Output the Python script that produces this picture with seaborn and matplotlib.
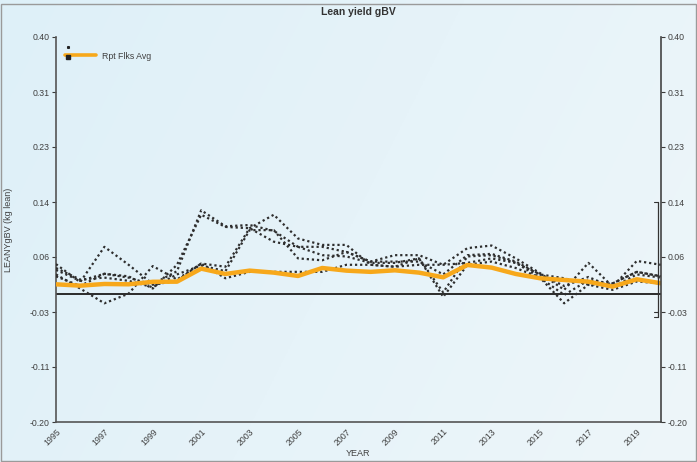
import numpy as np
import pandas as pd
import matplotlib
matplotlib.use("Agg")
import matplotlib.pyplot as plt
from matplotlib.lines import Line2D
from matplotlib.patches import Rectangle
import seaborn as sns

# ---- data -------------------------------------------------------------
years = list(range(1995, 2021))

flock_1 = [0.046, 0.018, 0.073, 0.045, 0.015, 0.035, 0.130, 0.105, 0.107, 0.098, 0.073, 0.073, 0.065,
           0.050, 0.060, 0.060, 0.045, 0.071, 0.075, 0.055, 0.032, 0.006, 0.048, 0.011, 0.051, 0.045]
flock_2 = [0.037, 0.020, 0.031, 0.027, 0.008, 0.045, 0.123, 0.104, 0.102, 0.081, 0.073, 0.060, 0.058,
           0.048, 0.048, 0.055, 0.002, 0.058, 0.060, 0.048, 0.025, -0.002, 0.021, 0.016, 0.034, 0.027]
flock_3 = [0.030, 0.008, -0.015, 0.000, 0.043, 0.022, 0.047, 0.042, 0.102, 0.123, 0.086, 0.076, 0.076,
           0.045, 0.042, 0.045, 0.045, 0.048, 0.055, 0.048, 0.030, 0.024, 0.014, 0.006, 0.019, 0.016]
flock_4 = [0.027, 0.012, 0.031, 0.025, 0.014, 0.020, 0.047, 0.024, 0.034, 0.034, 0.034, 0.034, 0.045,
           0.045, 0.042, 0.055, -0.005, 0.045, 0.050, 0.040, 0.025, -0.015, 0.014, 0.016, 0.034, 0.027]
flock_5 = [0.040, 0.022, 0.025, 0.020, 0.010, 0.030, 0.044, 0.035, 0.099, 0.099, 0.055, 0.052, 0.065,
           0.050, 0.050, 0.050, 0.030, 0.060, 0.062, 0.050, 0.030, 0.012, 0.026, 0.010, 0.030, 0.025]

rpt_flks_avg = [0.0146, 0.0125, 0.0151, 0.0146, 0.0185, 0.0187, 0.0390, 0.0307, 0.0359, 0.0328, 0.0276,
                0.0400, 0.0359, 0.0340, 0.0364, 0.0328, 0.0255, 0.0447, 0.0406, 0.0307, 0.0240, 0.0213,
                0.0187, 0.0110, 0.0224, 0.0162]

y_tick_labels = ["-0.20", "-0.11", "-0.03", "0.06", "0.14", "0.23", "0.31", "0.40"]
x_tick_years = list(range(1995, 2020, 2))

flocks = {"F1": flock_1, "F2": flock_2, "F3": flock_3, "F4": flock_4, "F5": flock_5}
long_df = pd.DataFrame(
    [(name, yr, v) for name, vals in flocks.items() for yr, v in zip(years, vals)],
    columns=["flock", "YEAR", "value"],
)
avg_df = pd.DataFrame({"YEAR": years, "value": rpt_flks_avg})

# ---- style ------------------------------------------------------------
sns.set_style("white")
plt.rcParams["font.family"] = ["Liberation Sans", "DejaVu Sans"]
text_col = "#404040"
axis_col = "#3a3a3a"

W, H = 697, 462
fig = plt.figure(figsize=(W / 100, H / 100), dpi=100)

# soft light-blue background wash
bg = fig.add_axes([0, 0, 1, 1], zorder=-10)
gx = np.linspace(0, 1, 300)
gy = np.linspace(0, 1, 200)
GX, GY = np.meshgrid(gx, gy)
c_left = np.array([222, 240, 248]) / 255
c_right = np.array([238, 246, 250]) / 255
t = np.clip(0.75 * GX + 0.25 * (1 - GY), 0, 1)[..., None]
bg.imshow(c_left * (1 - t) + c_right * t, aspect="auto", extent=[0, 1, 0, 1], origin="lower")
bg.set_axis_off()
bg.add_patch(Rectangle((0.002, 0.002), 0.996, 0.990, fill=False, ec="#9a9a9a", lw=1.0,
                       transform=bg.transAxes))

left, right, top, bottom = 56, 661, 37, 422
ax = fig.add_axes([left / W, (H - bottom) / H, (right - left) / W, (bottom - top) / H])
ax.set_facecolor("none")

# individual flocks: dotted
sns.lineplot(data=long_df, x="YEAR", y="value", units="flock", estimator=None,
             color="#2e2e2e", lw=1.6, ax=ax, legend=False, zorder=3)
for ln in ax.lines:
    ln.set_linestyle((0, (1, 1.3)))

# reported flock average
sns.lineplot(data=avg_df, x="YEAR", y="value", color="#f7a81b", lw=3.2, ax=ax,
             legend=False, zorder=4)

ax.axhline(0, color="#2b2b2b", lw=1.4, zorder=2)

ax.set_xlim(1995, 2020)
ax.set_ylim(-0.20, 0.40)
y_ticks = np.linspace(-0.20, 0.40, len(y_tick_labels))
ax.set_yticks(y_ticks)
ax.set_yticklabels(y_tick_labels)
ax.set_xticks(x_tick_years)
ax.set_xticklabels([str(y) for y in x_tick_years], rotation=45, ha="right",
                   rotation_mode="anchor")
ax.set_xticks(years[:-1], minor=True)

ax.tick_params(axis="both", which="both", direction="out", length=3, width=0.8,
               color=axis_col, labelsize=6.3, labelcolor=text_col, pad=1.5)
ax.tick_params(axis="x", which="major", pad=0.5)

for side in ["top", "right"]:
    ax.spines[side].set_visible(False)
for side in ["left", "bottom"]:
    ax.spines[side].set_color("#555555")
    ax.spines[side].set_linewidth(1.2)

ax.set_xlabel("YEAR", fontsize=6.5, color=text_col)
ax.xaxis.set_label_coords(0.5, -0.071)
ax.set_ylabel("LEANYgBV (kg lean)", fontsize=6.5, color=text_col)
ax.yaxis.set_label_coords(-0.071, 0.5)

# mirrored right axis
ax2 = ax.twinx()
ax2.set_ylim(ax.get_ylim())
ax2.set_yticks(y_ticks)
ax2.set_yticklabels(y_tick_labels)
ax2.tick_params(axis="y", direction="out", length=3, width=0.8, color=axis_col,
                labelsize=6.3, labelcolor=text_col, pad=1.5)
for side in ["top", "left", "bottom"]:
    ax2.spines[side].set_visible(False)
ax2.spines["right"].set_color("#444444")
ax2.spines["right"].set_linewidth(1.2)

# short range bracket just inside the right axis
bx = 0.995
ax.plot([bx, bx], [y_ticks[4], -0.036], transform=ax.get_yaxis_transform(),
        color="#333333", lw=0.9, zorder=5, clip_on=False)
for yv in (y_ticks[4], y_ticks[2], -0.036):
    ax.plot([bx - 0.006, bx], [yv, yv], transform=ax.get_yaxis_transform(),
            color="#333333", lw=0.8, zorder=5, clip_on=False)

# legend
handle = Line2D([], [], color="#f7a81b", lw=2.6)
leg = ax.legend([handle], ["Rpt Flks Avg"], loc="upper left", frameon=False,
                fontsize=6.3, handlelength=3.6, handletextpad=0.6,
                bbox_to_anchor=(0.0, 0.985), borderaxespad=0.6)
for txt in leg.get_texts():
    txt.set_color(text_col)
ax.plot([0.0205], [0.973], marker="s", ms=1.2, color="#222222", transform=ax.transAxes,
        clip_on=False, zorder=6)
ax.plot([0.0205], [0.947], marker="s", ms=2.4, color="#222222", transform=ax.transAxes,
        clip_on=False, zorder=6)

fig.text(358 / W, 1 - 12 / H, "Lean yield gBV", ha="center", va="center",
         fontsize=7.5, fontweight="bold", color="#333333")

fig.savefig("out.png", dpi=100)
